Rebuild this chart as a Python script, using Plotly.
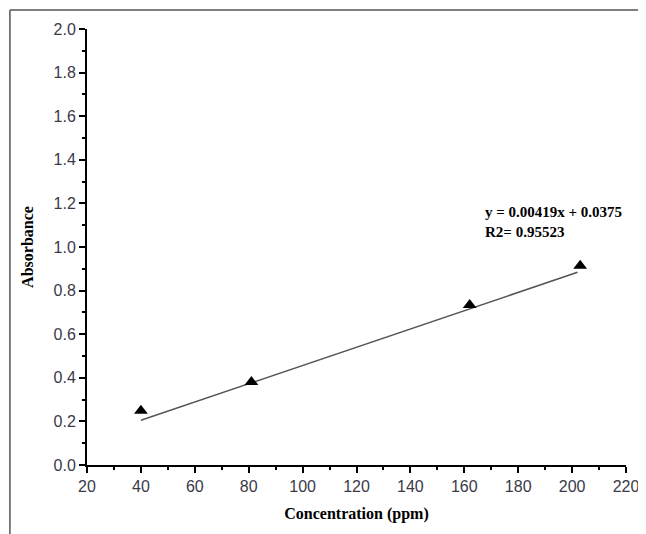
import plotly.graph_objects as go

# Data
concentration = [40, 81, 162, 203]
absorbance = [0.249, 0.381, 0.734, 0.914]
slope = 0.00419
intercept = 0.0375
fit_x = [40, 202]
fit_y = [slope * x + intercept for x in fit_x]
eq_text = "y = 0.00419x + 0.0375"
r2_text = "R2= 0.95523"
x_ticks = [20, 40, 60, 80, 100, 120, 140, 160, 180, 200, 220]
y_ticks = [0.0, 0.2, 0.4, 0.6, 0.8, 1.0, 1.2, 1.4, 1.6, 1.8, 2.0]

fig = go.Figure()
fig.add_trace(go.Scatter(x=fit_x, y=fit_y, mode="lines",
                         line=dict(color="#555555", width=1.5),
                         showlegend=False, hoverinfo="skip"))
fig.add_trace(go.Scatter(x=concentration, y=absorbance, mode="markers",
                         marker=dict(symbol="triangle-up", size=12, color="black"),
                         showlegend=False))

tick_font = dict(family="Liberation Sans, Arial, sans-serif", size=16, color="#3a3a48")
title_font = dict(family="Liberation Serif, Times New Roman, serif", size=16, color="black")

fig.update_xaxes(range=[20, 220], tickvals=x_ticks, ticktext=[str(v) for v in x_ticks],
                 showline=True, linecolor="black", linewidth=2, ticks="outside",
                 ticklen=6, tickwidth=2, tickcolor="black", showgrid=False, zeroline=False,
                 minor=dict(ticks="outside", ticklen=3, tickwidth=2, tickcolor="black", dtick=10),
                 tickfont=tick_font, ticklabeloverflow="allow",
                 title=dict(text="<b>Concentration (ppm)</b>", font=title_font, standoff=14))
fig.update_yaxes(range=[0, 2.0], tickvals=y_ticks, ticktext=[f"{v:.1f}" for v in y_ticks],
                 showline=True, linecolor="black", linewidth=2, ticks="outside",
                 ticklen=6, tickwidth=2, tickcolor="black", showgrid=False, zeroline=False,
                 minor=dict(ticks="outside", ticklen=3, tickwidth=2, tickcolor="black", dtick=0.1),
                 tickfont=tick_font, ticklabeloverflow="allow",
                 title=dict(text="<b>Absorbance</b>", font=title_font, standoff=16))

fig.add_annotation(x=0.735, y=0.557, xref="paper", yref="paper", xanchor="left", yanchor="middle",
                   align="left", text="<b>" + eq_text + "</b><br><b>" + r2_text + "</b>",
                   showarrow=False,
                   font=dict(family="Liberation Serif, Times New Roman, serif", size=15, color="black"))

# outer frame (top and left edges)
fig.add_shape(type="line", xref="paper", yref="paper", x0=-0.143, x1=1.1, y0=1.0436, y1=1.0436,
              line=dict(color="#555555", width=1.5))
fig.add_shape(type="line", xref="paper", yref="paper", x0=-0.143, x1=-0.143, y0=1.0436, y1=-0.2,
              line=dict(color="#555555", width=1.5))

fig.update_layout(width=646, height=534, plot_bgcolor="white", paper_bgcolor="white",
                  margin=dict(l=79, r=28, t=21, b=77))

fig.write_html("out.html")
